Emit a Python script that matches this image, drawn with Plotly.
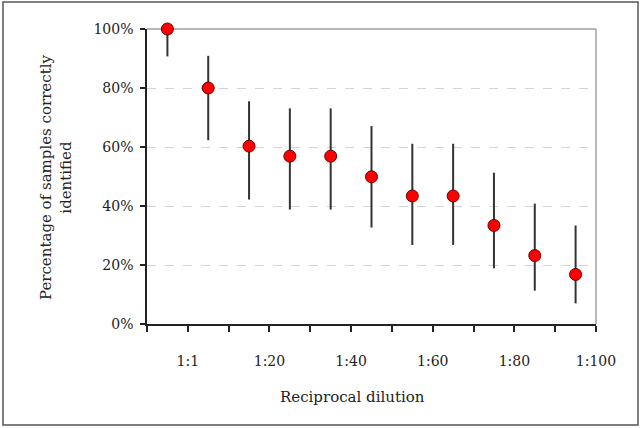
import numpy as np
import plotly.graph_objects as go

# Data
dilutions = ["1:1", "1:10", "1:20", "1:30", "1:40", "1:50", "1:60", "1:70", "1:80", "1:90", "1:100"]
pct_correct = [100, 80, 60.3, 56.9, 56.9, 49.9, 43.4, 43.4, 33.4, 23.2, 16.8]
ci_upper = [100, 90.9, 75.5, 73.1, 73.1, 67.1, 61.1, 61.1, 51.3, 40.8, 33.4]
ci_lower = [90.7, 62.3, 42.2, 38.8, 38.8, 32.7, 26.8, 26.8, 18.9, 11.3, 7.0]
tick_labels = ["1:1", "1:20", "1:40", "1:60", "1:80", "1:100"]
y_ticks = [0, 20, 40, 60, 80, 100]
y_tick_labels = ["0%", "20%", "40%", "60%", "80%", "100%"]

n = len(dilutions)
xpos = np.arange(n) + 0.5
err_plus = [u - p for u, p in zip(ci_upper, pct_correct)]
err_minus = [p - l for p, l in zip(pct_correct, ci_lower)]

# x tick marks at every category boundary, labels every second boundary
bvals = list(range(n + 1))
btext = [""] * (n + 1)
for k, lab in enumerate(tick_labels):
    btext[1 + 2 * k] = lab

FONT = "DejaVu Serif"
TXT = "#222222"

fig = go.Figure()
fig.add_trace(go.Scatter(
    x=xpos, y=pct_correct, mode="markers",
    marker=dict(size=12, color="#ff0000", line=dict(color="#6a0000", width=1)),
    error_y=dict(type="data", symmetric=False, array=err_plus, arrayminus=err_minus,
                 color="#333333", thickness=2, width=0),
    cliponaxis=False, showlegend=False, hoverinfo="skip",
))

fig.update_layout(
    width=642, height=428,
    margin=dict(l=147, r=46, t=29, b=104),
    paper_bgcolor="white", plot_bgcolor="white",
    font=dict(family=FONT, size=14, color=TXT),
    xaxis=dict(
        range=[0, n], tickmode="array", tickvals=bvals, ticktext=btext,
        ticks="outside", ticklen=6, tickwidth=1.5, tickcolor="#222",
        showline=True, linecolor="#222", linewidth=1.5,
        showgrid=False, zeroline=False, ticklabelstandoff=17,
        tickfont=dict(family=FONT, size=14, color=TXT),
    ),
    yaxis=dict(
        range=[0, 100], tickmode="array", tickvals=y_ticks, ticktext=y_tick_labels,
        ticks="outside", ticklen=5, tickwidth=1.5, tickcolor="#222",
        showline=True, linecolor="#222", linewidth=1.5,
        showgrid=True, gridcolor="#d4d4d4", griddash="dash", gridwidth=1,
        zeroline=False, ticklabelstandoff=4,
        tickfont=dict(family=FONT, size=14, color=TXT),
    ),
    shapes=[
        # top and right plot-area border
        dict(type="line", xref="paper", yref="paper", x0=0, x1=1, y0=1, y1=1,
             line=dict(color="#a0a0a0", width=1.5), layer="below"),
        dict(type="line", xref="paper", yref="paper", x0=1, x1=1, y0=0, y1=1,
             line=dict(color="#a0a0a0", width=1.5), layer="below"),
        # outer chart border
        dict(type="rect", xref="paper", yref="paper",
             x0=(3 - 147) / 449, x1=(638 - 147) / 449,
             y0=(324 - 425) / 295, y1=(324 - 2) / 295,
             line=dict(color="#555555", width=1.5)),
    ],
    annotations=[
        dict(text="Reciprocal dilution", xref="paper", yref="paper",
             x=(352 - 147) / 449, y=(324 - 397) / 295, showarrow=False,
             xanchor="center", yanchor="middle",
             font=dict(family=FONT, size=15, color=TXT)),
        dict(text="Percentage of samples correctly<br>identified", xref="paper", yref="paper",
             x=(56 - 147) / 449, y=(324 - 178) / 295, showarrow=False, textangle=-90,
             xanchor="center", yanchor="middle", align="center",
             font=dict(family=FONT, size=15, color=TXT)),
    ],
)

fig.write_html("out.html")
